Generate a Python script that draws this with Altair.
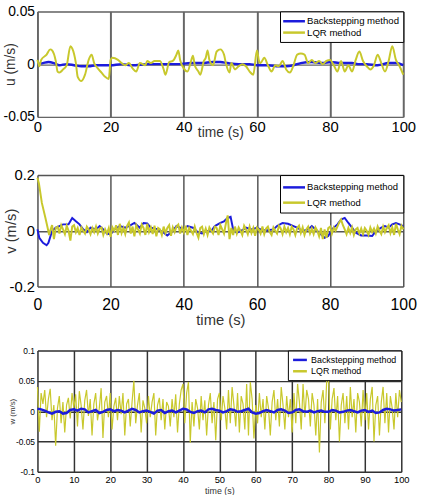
import altair as alt
import pandas as pd
import numpy as np

FONT = "Liberation Sans"
BLUE = "#1c1cdc"
YELLOW = "#c8c82c"
METHODS = ["Backstepping method", "LQR method"]

# ---------------- panel 1 : u (m/s) ----------------
u_bs_t = [0, 1.5, 3, 4.5, 6, 8, 10, 12, 14, 16, 18, 20, 23, 26, 30, 34, 38, 42, 45, 48,
          50, 52, 55, 58, 60, 63, 66, 68, 70, 72, 75, 78, 80, 83, 86, 88, 90, 93, 96, 98, 100]
u_bs = [0.0, 0.001, 0.002, 0.001, -0.001, 0.0, -0.001, -0.002, -0.002, -0.001, -0.001, -0.001, 0.0, -0.001, 0.0, 0.0, 0.0, 0.001, 0.001, 0.002,
        0.002, 0.001, 0.0, 0.0, -0.001, -0.001, -0.002, -0.002, -0.001, 0.001, 0.002, 0.001, 0.002, 0.001, 0.001, 0.0, 0.0, -0.001, 0.001, 0.001, -0.001]

u_lqr_t = [0, 0.5, 1, 2.5, 3.5, 4, 5, 5.5, 6, 7, 8, 9, 9.5, 10.5, 11, 12, 13, 14, 14.8, 15.5,
           16.5, 17.5, 18.5, 19.5, 20, 20.5, 22, 23, 24, 25, 26, 27, 28, 29.5, 30, 31, 32, 33.5, 34.5, 35,
           36, 37, 38, 38.5, 39, 40, 41, 42, 42.5, 43, 44, 44.5, 45.5, 46, 46.5, 47, 48, 49, 50, 51,
           51.5, 52.5, 53, 54, 55, 56, 57, 58, 59, 60, 60.5, 61, 62, 63, 64, 65, 66, 67, 68, 69,
           70, 71, 72, 73, 74, 75, 76, 77, 78, 79, 80, 81, 82, 83, 84, 85, 86, 87, 88, 89,
           90, 91, 92, 93, 94, 95, 96, 97, 98, 99, 100]
u_lqr = [0.004, -0.002, 0.004, 0.009, 0.014, 0.013, 0.003, -0.007, -0.008, -0.005, -0.001, 0.017, 0.015, 0.001, -0.012, -0.016, -0.010, 0.004, 0.009, 0.001,
         -0.004, -0.008, -0.012, -0.014, 0.004, 0.006, 0.004, 0.001, -0.001, 0.001, -0.004, -0.007, 0.001, -0.001, 0.003, 0.001, 0.003, 0.003, -0.005, -0.010,
         0.002, 0.003, 0.009, 0.013, 0.004, -0.004, -0.007, 0.003, 0.008, -0.001, -0.007, -0.010, 0.003, 0.006, 0.013, 0.004, -0.001, 0.012, 0.014, 0.009,
         0.001, -0.008, 0.001, -0.005, -0.002, 0.0, -0.002, -0.007, -0.010, 0.013, 0.004, 0.001, 0.006, -0.001, -0.007, -0.001, -0.002, 0.003, -0.005, -0.008,
         -0.001, 0.009, 0.010, 0.009, 0.001, 0.004, 0.001, 0.003, 0.0, 0.003, 0.004, -0.001, -0.007, 0.003, -0.007, -0.001, -0.007, 0.004, 0.012, 0.003,
         -0.002, -0.005, -0.001, 0.009, 0.001, -0.007, 0.003, 0.017, 0.004, -0.002, -0.010]

# ---------------- panel 2 : v (m/s) ----------------
v_bs_t = [0, 0.5, 1.5, 2.5, 3, 4, 5, 6, 7, 8.5, 9.5, 10.5, 11.5, 12.5, 13.5, 14.5, 16, 17, 18, 19,
          20, 21, 22.5, 24, 25, 26.5, 28, 29, 30, 31, 33, 34.5, 35.5, 37, 38, 39, 40, 41, 42.5, 44,
          45, 46, 47.5, 48.5, 50, 51, 52, 52.8, 53.5, 54.5, 56, 57, 58.5, 60, 61.5, 63, 64.5, 65.5, 67, 68.5,
          70, 71, 72.5, 74, 75, 76.5, 77.5, 78.5, 79.5, 80.5, 82, 83, 84, 85, 86, 87, 88.5, 90, 91.5, 92.5,
          94, 95, 96, 97, 98, 99, 100]
v_bs = [0.005, -0.025, -0.043, -0.052, -0.043, -0.001, 0.011, 0.017, 0.023, 0.023, 0.046, 0.034, 0.023, 0.005, -0.005, 0.011, 0.005, 0.017, 0.005, -0.010,
        -0.013, 0.005, 0.017, 0.011, 0.017, 0.028, 0.011, 0.028, 0.026, 0.011, 0.005, -0.007, -0.017, -0.001, 0.017, 0.011, 0.005, 0.017, 0.011, -0.007,
        -0.010, -0.001, -0.001, 0.017, 0.028, 0.034, 0.046, 0.050, 0.005, -0.007, 0.002, 0.011, 0.005, 0.011, 0.002, 0.002, 0.005, 0.017, 0.028, 0.025,
        0.017, 0.011, -0.001, 0.005, 0.017, -0.001, -0.013, -0.025, -0.019, 0.005, 0.023, 0.040, 0.046, 0.028, 0.011, -0.007, -0.017, -0.017, -0.019, -0.001,
        0.011, 0.017, 0.011, 0.023, 0.028, 0.023, 0.017]

v_lqr_start_t = [0, 0.4, 1.2, 2.1, 2.7, 3.2, 3.6]
v_lqr_start = [0.19, 0.17, 0.10, 0.05, 0.015, -0.015, 0.005]
v_lqr_rest = [0.020, -0.030, 0.010, 0.015, -0.010, 0.020, 0.005, -0.012, 0.018, 0.000,
              -0.035, 0.015, 0.020, -0.005, 0.010, -0.015, 0.012, 0.000, -0.010, 0.015,
              0.005, -0.012, 0.010, -0.005, 0.015, -0.010, 0.008, 0.012, -0.015, 0.005,
              -0.010, 0.010, -0.022, 0.012, 0.000, 0.020, -0.015, 0.025, -0.008, 0.010,
              -0.012, 0.018, 0.030, -0.010, 0.015, -0.020, 0.020, 0.005, -0.010, 0.022,
              0.010, -0.015, 0.025, -0.005, 0.012, -0.012, 0.018, -0.020, 0.010, 0.005,
              -0.015, 0.015, -0.008, 0.010, 0.020, -0.018, 0.012, -0.005, 0.015, 0.022,
              -0.010, 0.012, -0.005, 0.018, -0.015, 0.010, 0.000, -0.012, 0.015, -0.008,
              -0.025, 0.010, 0.015, -0.012, 0.008, -0.015, 0.012, 0.000, -0.010, 0.015,
              0.010, -0.015, 0.020, 0.005, -0.010, 0.025, 0.055, -0.030, 0.010, -0.015,
              0.015, -0.010, 0.012, 0.000, -0.015, 0.018, 0.005, -0.012, 0.015, -0.008,
              0.010, -0.018, 0.012, 0.005, -0.010, 0.015, -0.012, 0.008, 0.015, -0.005,
              -0.015, 0.012, 0.000, -0.010, 0.018, 0.008, -0.012, 0.015, -0.005, 0.010,
              -0.012, 0.015, 0.005, -0.015, 0.010, 0.018, -0.008, 0.012, -0.015, 0.005,
              0.015, -0.010, 0.008, -0.012, 0.012, 0.000, -0.020, 0.010, -0.030, 0.005,
              -0.025, 0.010, 0.015, -0.010, 0.012, 0.000, 0.015, 0.030, 0.040, 0.020,
              0.005, -0.012, 0.010, -0.008, 0.012, -0.015, 0.005, 0.010, -0.010, 0.008,
              -0.012, 0.010, 0.000, -0.015, 0.012, -0.005, 0.008, -0.010, 0.015, 0.000,
              -0.012, 0.015, -0.005, 0.010, 0.020, -0.008, 0.012, -0.015, 0.025, 0.005,
              -0.012, 0.018, 0.005]

# ---------------- panel 3 : w (m/s) ----------------
w_bs = [0.004, 0.003, 0.001, -0.002, -0.004, -0.001, 0.000, -0.004, -0.003, 0.002,
        0.003, 0.001, 0.004, 0.003, -0.002, 0.000, 0.002, -0.003, -0.001, 0.002,
        0.003, 0.000, 0.002, 0.001, -0.002, 0.001, 0.004, 0.002, -0.002, 0.000,
        0.001, -0.001, -0.004, 0.001, 0.002, -0.003, 0.000, 0.001, -0.002, 0.001,
        0.004, 0.003, -0.001, -0.003, 0.000, 0.001, -0.002, 0.003, 0.004, 0.002,
        0.001, -0.002, 0.000, 0.003, 0.002, -0.001, 0.000, 0.002, 0.004, -0.002,
        -0.004, -0.003, 0.000, 0.002, 0.000, -0.002, 0.002, 0.003, 0.001, -0.003,
        -0.002, 0.002, 0.003, 0.000, -0.001, 0.001, -0.002, 0.000, 0.001, -0.001,
        -0.001, 0.002, 0.001, -0.002, -0.001, 0.001, 0.002, 0.000, -0.002, 0.001,
        0.002, -0.001, 0.001, -0.003, -0.002, 0.002, 0.004, 0.003, 0.001, 0.002,
        0.003]
w_lqr = [0.040, -0.034, 0.030, 0.012, 0.035, -0.010, 0.020, 0.037, -0.015, 0.010,
         -0.057, 0.005, 0.025, -0.020, 0.015, -0.035, 0.010, 0.022, -0.012, 0.030,
         0.005, 0.028, -0.025, 0.033, 0.010, -0.030, 0.018, 0.035, -0.008, 0.020,
         -0.040, 0.012, 0.030, -0.015, 0.005, 0.038, -0.044, 0.015, 0.025, -0.010,
         0.030, -0.030, 0.008, 0.022, -0.015, 0.025, -0.005, 0.030, -0.040, 0.012,
         0.020, -0.025, 0.015, 0.050, -0.020, 0.010, 0.030, -0.035, 0.018, 0.005,
         -0.020, 0.025, -0.010, 0.015, 0.030, -0.040, 0.010, 0.022, -0.015, 0.020,
         -0.030, 0.015, 0.008, -0.025, 0.020, -0.010, 0.028, -0.035, 0.012, 0.035,
         0.045, -0.020, 0.030, 0.048, -0.052, 0.015, -0.025, 0.020, 0.005, -0.030,
         0.025, -0.015, 0.018, -0.040, 0.010, 0.030, -0.020, 0.015, -0.048, 0.020,
         0.030, -0.015, 0.025, 0.005, -0.030, 0.035, -0.020, 0.040, 0.010, -0.025,
         0.030, -0.035, 0.025, 0.012, -0.030, 0.045, -0.040, 0.048, 0.020, -0.045,
         0.010, -0.020, 0.030, -0.010, 0.020, -0.030, 0.025, 0.005, -0.040, 0.015,
         0.035, -0.015, 0.020, -0.025, 0.040, 0.010, -0.030, 0.025, -0.010, 0.020,
         -0.035, 0.030, -0.020, 0.045, 0.015, -0.030, 0.045, -0.010, 0.035, 0.020,
         -0.025, 0.030, 0.010, -0.040, 0.020, -0.068, 0.015, 0.035, -0.020, 0.050,
         0.052, -0.030, 0.020, 0.038, -0.015, 0.025, -0.050, 0.010, 0.030, -0.020,
         0.025, -0.030, 0.040, -0.010, 0.020, -0.035, 0.030, 0.015, -0.025, 0.035,
         -0.015, 0.030, -0.030, 0.020, 0.040, -0.050, 0.010, 0.025, -0.040, 0.015,
         0.040, -0.020, 0.030, -0.035, 0.025, 0.005, -0.030, 0.030, -0.010, 0.035,
         0.015]

x_ticks_big = [0, 20, 40, 60, 80, 100]
x_ticks_small = [0, 10, 20, 30, 40, 50, 60, 70, 80, 90, 100]


def frame(t, v, m):
    assert len(t) == len(v), (m, len(t), len(v))
    return pd.DataFrame({"t": list(t), "val": list(v), "method": m})


u_bs_df = frame(u_bs_t, u_bs, METHODS[0])
u_lqr_df = frame(u_lqr_t, u_lqr, METHODS[1])
v_bs_df = frame(v_bs_t, v_bs, METHODS[0])
v_lqr_df = frame(v_lqr_start_t + list(np.arange(4, 100.01, 0.5)), v_lqr_start + v_lqr_rest, METHODS[1])
w_bs_df = frame(np.arange(0, 100.01, 1.0), w_bs, METHODS[0])
w_lqr_df = frame(np.arange(0, 100.01, 0.5), w_lqr, METHODS[1])

YLAB = "datum.value == 0 ? '0' : toString(datum.value)"


def legend(fs, size, pad, rowpad, symoff, laboff, path):
    return alt.Legend(title=None, orient="top-right", offset=0, fillColor="white",
                      strokeColor="black", padding=pad, symbolType=path, symbolSize=size,
                      symbolStrokeWidth=2.5, symbolOffset=symoff, labelFont=FONT,
                      labelFontSize=fs, labelColor="black", labelOffset=laboff,
                      rowPadding=rowpad, labelLimit=300)


def panel(bs_df, lqr_df, w, h, ydom, xax, yax, leg, bs_w, lqr_w, blue_top, interp):
    color = alt.Color("method:N", scale=alt.Scale(domain=METHODS, range=[BLUE, YELLOW]), legend=leg)
    xenc = alt.X("t:Q", scale=alt.Scale(domain=[0, 100], nice=False, zero=False), axis=xax)
    yenc = alt.Y("val:Q", scale=alt.Scale(domain=ydom, nice=False, zero=False), axis=yax)
    blue = alt.Chart(bs_df).mark_line(strokeWidth=bs_w, interpolate=interp).encode(x=xenc, y=yenc, color=color)
    yel = alt.Chart(lqr_df).mark_line(strokeWidth=lqr_w, interpolate=interp).encode(x=xenc, y=yenc, color=color)
    layers = [yel, blue] if blue_top else [blue, yel]
    return alt.layer(*layers).properties(width=w, height=h)


def xaxis(vals, lfs, lpad, tfs, tpad, gcol, gw):
    return alt.Axis(values=vals, grid=True, gridColor=gcol, gridWidth=gw, gridOpacity=1,
                    domain=False, ticks=False, labelFont=FONT, labelFontSize=lfs,
                    labelPadding=lpad, labelColor="black", labelFlush=False, labelOverlap=False,
                    title="time (s)", titleFont=FONT, titleFontSize=tfs, titleFontWeight="normal",
                    titleColor="#333333", titlePadding=tpad)


def yaxis(vals, title, lfs, lpad, tfs, tpad, gcol, gw):
    return alt.Axis(values=vals, grid=True, gridColor=gcol, gridWidth=gw, gridOpacity=1,
                    domain=False, ticks=False, labelFont=FONT, labelFontSize=lfs,
                    labelPadding=lpad, labelColor="black", labelExpr=YLAB, labelOverlap=False,
                    title=title, titleFont=FONT, titleFontSize=tfs, titleFontWeight="normal",
                    titleColor="#333333", titlePadding=tpad)


p1 = panel(u_bs_df, u_lqr_df, 371, 107, [-0.05, 0.05],
           xaxis(x_ticks_big, 15, 3, 14, -9, "#666666", 2),
           yaxis([-0.05, 0, 0.05], "u (m/s)", 14, 3, 14, -15, "#666666", 1.5),
           legend(9.7, 81, 4, 0.5, 4.25, 7.25, "M-2.45,0H2.45"), 2.5, 2, False, "monotone")

p2 = panel(v_bs_df, v_lqr_df, 371, 113, [-0.2, 0.2],
           xaxis(x_ticks_big, 16, 10, 15, 1, "#555555", 1.5),
           yaxis([-0.2, 0, 0.2], "v (m/s)", 15, 3, 15, -10, "#555555", 1.5),
           legend(9.6, 144, 5, 2.5, 1.75, 5.75, "M-1.85,0H1.85"), 2, 2, False, "linear")

p3 = panel(w_bs_df, w_lqr_df, 369, 123, [-0.1, 0.1],
           xaxis(x_ticks_small, 9.5, 3, 9, 2, "#333333", 1.5),
           yaxis([-0.1, -0.05, 0, 0.05, 0.1], "w (m/s)", 8.5, 3, 8, -1, "#333333", 1.5),
           legend(9, 64, 4, 0.5, 2.75, 5.75, "M-1.75,0H1.75"), 2.5, 1.2, True, "linear")

inner = alt.vconcat(p2, p3, spacing=17).resolve_scale(color="independent").resolve_legend(color="independent")
chart = alt.vconcat(p1, inner, spacing=27).resolve_scale(color="independent").resolve_legend(color="independent")
chart = chart.properties(padding={"left": 2, "top": 0, "right": 4, "bottom": 0}, background="white")
chart = chart.configure_view(stroke="black", strokeWidth=1.5).configure(font=FONT)

chart.save("out.html", embed_options={"renderer": "svg", "actions": False})
